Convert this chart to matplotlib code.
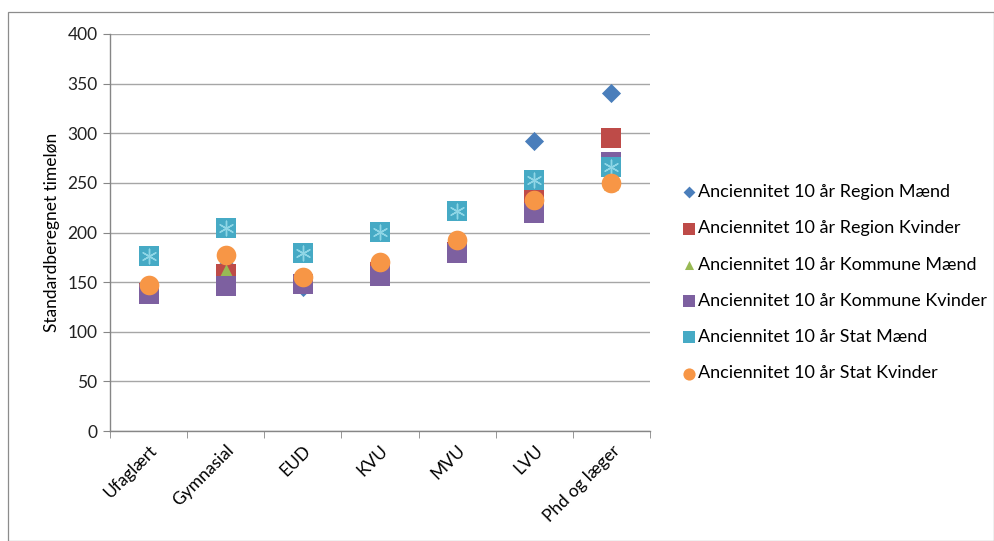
import matplotlib
matplotlib.use("Agg")
import matplotlib.pyplot as plt
from matplotlib.patches import Rectangle
import numpy as np

plt.rcParams['font.family'] = ['Lato', 'DejaVu Sans']

categories = ["Ufaglært", "Gymnasial", "EUD", "KVU", "MVU", "LVU", "Phd og læger"]

region_maend = [140, 166, 145, 170, 180, 292, 341]
region_kvinder = [139, 158, 148, 160, 180, 236, 295]
kommune_maend = [140, 161, 150, 162, 182, 228, 250]
kommune_kvinder = [138, 146, 148, 156, 179, 220, 271]
stat_maend = [176, 205, 179, 201, 222, 253, 266]
stat_kvinder = [147, 177, 155, 170, 192, 233, 250]

series_labels = [
    "Anciennitet 10 år Region Mænd",
    "Anciennitet 10 år Region Kvinder",
    "Anciennitet 10 år Kommune Mænd",
    "Anciennitet 10 år Kommune Kvinder",
    "Anciennitet 10 år Stat Mænd",
    "Anciennitet 10 år Stat Kvinder",
]

W, H = 995, 541
fig = plt.figure(figsize=(W / 100, H / 100), dpi=100)
fig.patch.set_facecolor("white")

# outer chart border
fig.add_artist(Rectangle((8 / W, 0), (W - 9) / W, (H - 12) / H, transform=fig.transFigure,
                         fill=False, edgecolor="#8c8c8c", linewidth=0.9))

ax = fig.add_axes([110 / W, (H - 431) / H, 540 / W, 397 / H])
x = np.arange(len(categories))

grey = "#868686"
ax.set_xlim(-0.5, len(categories) - 0.5)
ax.set_ylim(0, 400)
ax.set_yticks(np.arange(0, 401, 50))
ax.yaxis.grid(True, color="#a6a6a6", linewidth=1.0)
ax.set_axisbelow(True)
for s in ["top", "right"]:
    ax.spines[s].set_visible(False)
for s in ["left", "bottom"]:
    ax.spines[s].set_color(grey)
    ax.spines[s].set_linewidth(1.0)

ax.set_xticks(x)
ax.set_xticklabels(categories, rotation=45, ha="right", rotation_mode="anchor", fontsize=12.5)
ax.tick_params(axis="x", length=0, pad=8)
ax.set_xticks(np.arange(-0.5, len(categories)), minor=True)
ax.tick_params(axis="x", which="minor", length=5, color=grey, direction="out")
ax.tick_params(axis="y", length=5, color=grey, labelsize=12.5, pad=4)
for lab in ax.get_yticklabels():
    lab.set_color("#222222")
ax.set_ylabel("Standardberegnet timeløn", fontsize=12.5, labelpad=5)

c_rm, c_rk, c_km, c_kk, c_sm, c_sk = "#4a7ebb", "#be4b48", "#98b954", "#7d60a0", "#46aac5", "#f79646"

h1 = ax.scatter(x, region_maend, marker="D", s=95, color=c_rm, zorder=3, linewidths=0)
h2 = ax.scatter(x, region_kvinder, marker="s", s=200, color=c_rk, zorder=3, linewidths=0)
h3 = ax.scatter(x, kommune_maend, marker="^", s=110, color=c_km, zorder=3, linewidths=0)
h4 = ax.scatter(x, kommune_kvinder, marker="s", s=200, color=c_kk, zorder=3, linewidths=0)
h5 = ax.scatter(x, stat_maend, marker="s", s=210, color=c_sm, zorder=3, linewidths=0)
ax.scatter(x, stat_maend, marker=(6, 2, 0), s=110, color="#8fd6e6", zorder=3, linewidths=1.0)
h6 = ax.scatter(x, stat_kvinder, marker="o", s=200, color=c_sk, zorder=3, linewidths=0)

leg = fig.legend([h1, h2, h3, h4, h5, h6], series_labels, loc="upper left",
                 bbox_to_anchor=(674 / W, 1 - 177 / H), frameon=False, fontsize=13,
                 handletextpad=0.05, labelspacing=1.12, handlelength=0.9, markerscale=0.62,
                 borderaxespad=0)

fig.savefig("out.png", dpi=100)
